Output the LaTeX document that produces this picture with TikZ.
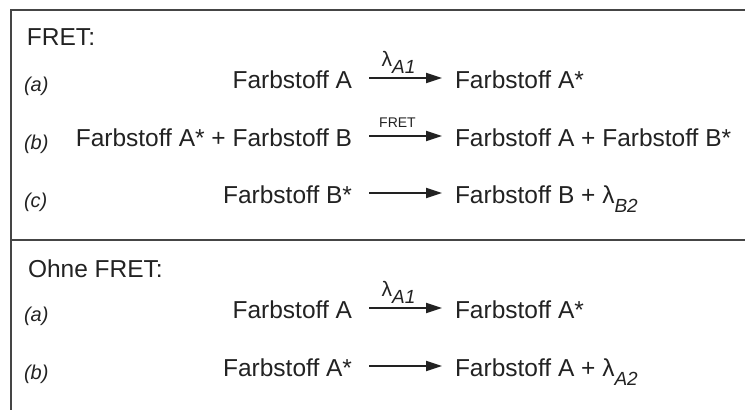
\documentclass[tikz,border=0pt]{standalone}
\usepackage{fontspec}
\setmainfont{Liberation Sans}
\usetikzlibrary{arrows.meta}
\definecolor{ink}{HTML}{222222}
\definecolor{rulegray}{HTML}{454545}
% lambda with an italic subscript such as A1 or B2; optional argument: how far the subscript drops
\newcommand\lamsub[2][9pt]{λ\raisebox{-#1}{\fontsize{19}{19}\selectfont\itshape #2}}

\begin{document}
\begin{tikzpicture}[x=1pt,y=-1pt,
  every node/.style={inner sep=0pt, outer sep=0pt, text=ink},
  maintxt/.style={font=\fontsize{24.5}{29}\selectfont},
  head/.style={maintxt, anchor=base west},
  tag/.style={font=\fontsize{20}{24}\selectfont\itshape, anchor=base west},
  lhs/.style={maintxt, anchor=base east, text height=20pt, text depth=0pt},
  rhs/.style={maintxt, anchor=base west, text height=20pt, text depth=0pt},
  rxn/.style={draw=ink, line width=1.8pt, -{Triangle[length=16pt,width=10pt]}},
  lamlab/.style={font=\fontsize{21}{24}\selectfont, above=5pt, xshift=-7pt},
  smalllab/.style={font=\fontsize{14}{16}\selectfont, above=9pt, xshift=-8pt},
  framerule/.style={draw=rulegray, line width=2pt}
]
\useasboundingbox (0,0) rectangle (745,410);

% frame and separator
\draw[framerule] (745,10) -- (11,10) -- (11,410);
\draw[framerule] (11,240) -- (745,240);

% --- with FRET ---
\node[head] (h1) at (27,45) {FRET:};

\node[tag] (t1a) at (24,91) {(a)};
\node[lhs] (l1a) at (352,88) {Farbstoff A};
\node[rhs] (r1a) at (455,88) {Farbstoff A*};
\draw[rxn] ([xshift=17pt]l1a.east) -- ([xshift=-13pt]r1a.west)
  node[midway, lamlab] {\lamsub[7pt]{A1}};

\node[tag] (t1b) at (24,149) {(b)};
\node[lhs] (l1b) at (352,146) {Farbstoff A* + Farbstoff B};
\node[rhs] (r1b) at (455,146) {Farbstoff A + Farbstoff B*};
\draw[rxn] ([xshift=17pt]l1b.east) -- ([xshift=-13pt]r1b.west)
  node[midway, smalllab] {FRET};

\node[tag] (t1c) at (24,207) {(c)};
\node[lhs] (l1c) at (352,203) {Farbstoff B*};
\node[rhs] (r1c) at (455,203) {Farbstoff B + \lamsub{B2}};
\draw[rxn] ([xshift=17pt]l1c.east) -- ([xshift=-13pt]r1c.west);

% --- without FRET ---
\node[head] (h2) at (28,277) {Ohne FRET:};

\node[tag] (t2a) at (24,321) {(a)};
\node[lhs] (l2a) at (352,318) {Farbstoff A};
\node[rhs] (r2a) at (455,318) {Farbstoff A*};
\draw[rxn] ([xshift=17pt]l2a.east) -- ([xshift=-13pt]r2a.west)
  node[midway, lamlab] {\lamsub[7pt]{A1}};

\node[tag] (t2b) at (24,379) {(b)};
\node[lhs] (l2b) at (352,376) {Farbstoff A*};
\node[rhs] (r2b) at (455,376) {Farbstoff A + \lamsub{A2}};
\draw[rxn] ([xshift=17pt]l2b.east) -- ([xshift=-13pt]r2b.west);
\end{tikzpicture}
\end{document}
